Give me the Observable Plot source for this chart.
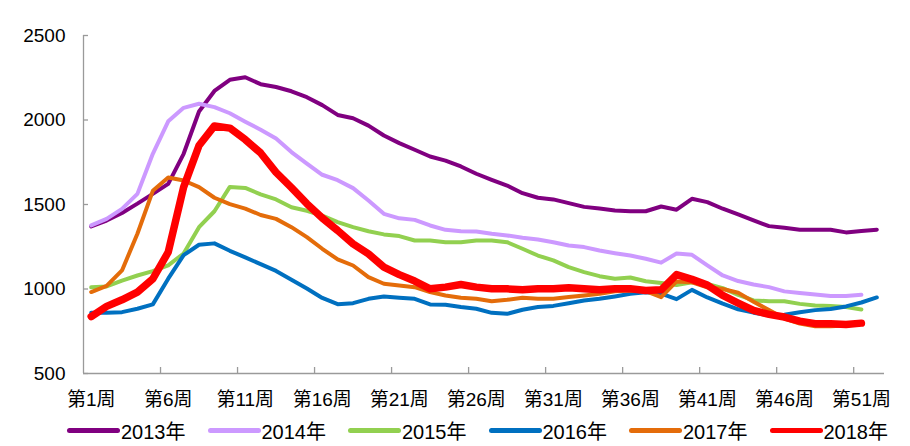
<!DOCTYPE html>
<html><head><meta charset="utf-8">
<script src="https://cdn.jsdelivr.net/npm/d3@7"></script>
<script src="https://cdn.jsdelivr.net/npm/@observablehq/plot@0.6"></script>
<style>
body{margin:0;background:#fff;font-family:"Liberation Sans",Arial,"Noto Sans CJK SC",sans-serif;}
#legend{display:flex;padding-left:67px;height:31px;align-items:center;}
.item{display:flex;align-items:center;width:142.4px;font-size:20px;color:#000;white-space:nowrap}
.sw{width:53px;height:5.5px;border-radius:3px;margin-right:1px}
</style></head><body><div id="chart"></div><div id="legend"></div>
<script>
const years = ["2013年","2014年","2015年","2016年","2017年","2018年"];
const s2013 = [1370,1405,1450,1505,1563,1622,1800,2050,2172,2238,2253,2212,2195,2170,2135,2088,2030,2010,1967,1908,1863,1824,1784,1760,1725,1682,1646,1612,1567,1540,1530,1508,1486,1476,1465,1460,1460,1488,1469,1534,1514,1475,1441,1406,1372,1362,1351,1351,1351,1335,1343,1351];
const s2014 = [1376,1415,1474,1563,1800,1992,2072,2096,2076,2040,1990,1942,1890,1810,1742,1676,1644,1597,1524,1445,1418,1409,1376,1350,1342,1340,1327,1317,1303,1293,1277,1257,1248,1228,1212,1198,1179,1156,1210,1202,1140,1080,1047,1027,1011,986,976,968,958,958,966];
const s2015 = [1010,1015,1050,1080,1106,1140,1210,1366,1460,1604,1598,1560,1530,1484,1463,1435,1396,1366,1342,1323,1313,1287,1287,1277,1277,1287,1287,1277,1238,1198,1169,1129,1100,1076,1061,1068,1046,1035,1024,1040,1030,1005,965,932,928,928,912,903,899,893,879];
const s2016 = [860,860,863,883,909,1061,1200,1262,1270,1226,1187,1147,1107,1055,1003,947,910,916,942,956,948,942,909,907,893,883,859,853,877,893,900,916,932,942,956,972,981,972,940,995,950,913,880,860,845,848,862,875,882,897,920,950];
const s2017 = [982,1018,1110,1327,1581,1660,1642,1603,1540,1502,1476,1438,1415,1366,1307,1238,1175,1139,1070,1031,1021,1011,982,962,948,942,928,936,948,942,942,952,962,972,987,991,987,952,1045,1040,1010,1000,978,925,875,825,795,779,779,784,794];
const s2018 = [837,897,936,982,1060,1218,1603,1849,1965,1952,1884,1805,1690,1600,1505,1420,1346,1267,1208,1129,1085,1047,1001,1011,1027,1011,1001,1001,995,1001,1001,1007,1001,995,1001,1001,991,995,1085,1057,1023,962,917,873,850,834,810,795,795,790,798];
const yTicks = [500,1000,1500,2000,2500];
const xLabelWeeks = [1,6,11,16,21,26,31,36,41,46,51];
const xTickLabels = ["第1周","第6周","第11周","第16周","第21周","第26周","第31周","第36周","第41周","第46周","第51周"];

const series = [s2013,s2014,s2015,s2016,s2017,s2018];
const colors = ["#800080","#CC99FF","#92D050","#0070C0","#E46C0A","#FF0000"];
const widths = [4,4,4,4,4,7.5];
const axisGray = "#9a9a9a";

const lineMarks = series.map((vals, k) => Plot.line(
  vals.map((v, i) => ({week: i + 1, value: v})),
  {x: "week", y: "value", stroke: colors[k], strokeWidth: widths[k], strokeLinejoin: "round", strokeLinecap: "round"}
));
const boundaries = xLabelWeeks.slice(1).map(w => w - 0.5);

const chart = Plot.plot({
  width: 910, height: 415,
  marginLeft: 83, marginRight: 26, marginTop: 35, marginBottom: 42,
  style: {fontFamily: "'Liberation Sans', Arial, 'Noto Sans CJK SC', sans-serif", background: "#fff", color: "#000"},
  x: {domain: [0.5, 52.5]},
  y: {domain: [500, 2500]},
  marks: [
    Plot.ruleX([0.5], {stroke: axisGray, strokeWidth: 1.3}),
    Plot.ruleY([500], {stroke: axisGray, strokeWidth: 1.3}),
    Plot.axisY({ticks: yTicks, tickSize: -5, fill: "none", stroke: axisGray, strokeWidth: 1.3, label: null}),
    Plot.axisY({ticks: yTicks, tickSize: 0, tickPadding: 18, fontSize: 19, tickFormat: d => `${d}`, label: null, fill: "#000"}),
    Plot.axisX({ticks: boundaries, tickSize: -6, fill: "none", stroke: axisGray, strokeWidth: 1.3, label: null}),
    Plot.axisX({ticks: xLabelWeeks, tickSize: 0, tickPadding: 19, fontSize: 19, tickFormat: d => xTickLabels[xLabelWeeks.indexOf(d)], label: null, fill: "#000"}),
    ...lineMarks
  ]
});
document.getElementById("chart").appendChild(chart);

const legend = document.getElementById("legend");
years.forEach((y, k) => {
  const it = document.createElement("div");
  it.className = "item";
  it.innerHTML = `<span class="sw" style="background:${colors[k]}"></span><span>${y}</span>`;
  legend.appendChild(it);
});
</script></body></html>
